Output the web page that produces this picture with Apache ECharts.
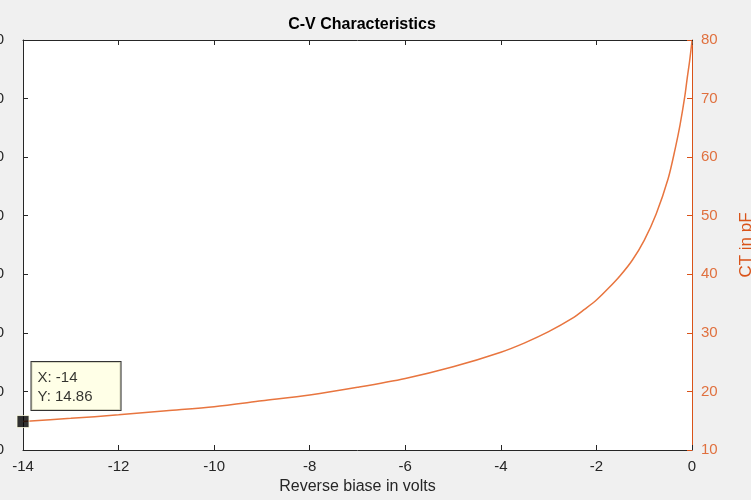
<!DOCTYPE html>
<html>
<head>
<meta charset="utf-8">
<script src="https://cdn.jsdelivr.net/npm/echarts@6/dist/echarts.min.js"></script>
<style>
  html, body { margin: 0; padding: 0; background: #f0f0f0; }
  #chart { width: 751px; height: 500px; }
</style>
</head>
<body>
<div id="chart"></div>
<script>
// reverse bias (V) and junction capacitance (pF)
const biasVolts = [-14, -13, -12, -11, -10, -9, -8, -7, -6, -5, -4, -3.5, -3, -2.5, -2.25, -2, -1.75,
  -1.5, -1.25, -1, -0.75, -0.5, -0.35, -0.25, -0.15, -0.1, -0.05, 0]
const capPf = [14.86, 15.4, 16.0, 16.7, 17.4, 18.4, 19.4, 20.7, 22.2, 24.2, 26.7, 28.3, 30.2, 32.5, 34.0, 35.6, 37.6,
  39.8, 42.4, 45.8, 50.3, 56.3, 61.5, 65.5, 70.4, 73.5, 76.4, 79.8]
const tipPoint = [-14, 14.86]

const xTicks = { min: -14, max: 0, interval: 2 }
const yTicks = { min: 10, max: 80, interval: 10 }

const dark = '#262626'
const orange = '#D95319'

const chart = echarts.init(document.getElementById('chart'), null, { renderer: 'canvas' })

const option = {
  backgroundColor: '#f0f0f0',
  animation: false,
  title: {
    text: 'C-V Characteristics',
    left: 357,
    textAlign: 'center',
    top: 12,
    textStyle: { fontFamily: 'Liberation Sans', fontSize: 16, fontWeight: 'bold', color: '#000' }
  },
  grid: {
    left: 23, right: 59, top: 40, bottom: 50,
    outerBoundsMode: 'none',
    containLabel: false,
    show: true, backgroundColor: '#fff', borderWidth: 0
  },
  xAxis: [
    {
      type: 'value', position: 'bottom',
      min: xTicks.min, max: xTicks.max, interval: xTicks.interval,
      name: 'Reverse biase in volts', nameLocation: 'middle', nameGap: 29,
      nameTextStyle: { fontFamily: 'Liberation Sans', fontSize: 16, color: dark },
      axisLine: { onZero: false, lineStyle: { color: dark, width: 1 } },
      axisTick: { inside: true, length: 5, lineStyle: { color: dark } },
      axisLabel: { fontFamily: 'Liberation Sans', fontSize: 15, color: dark, margin: 9 },
      splitLine: { show: false }
    },
    {
      type: 'value', position: 'top',
      min: xTicks.min, max: xTicks.max, interval: xTicks.interval,
      axisLine: { onZero: false, lineStyle: { color: dark, width: 1 } },
      axisTick: { inside: true, length: 5, lineStyle: { color: dark } },
      axisLabel: { show: false },
      splitLine: { show: false }
    }
  ],
  yAxis: [
    {
      type: 'value', position: 'left',
      min: yTicks.min, max: yTicks.max, interval: yTicks.interval,
      axisLine: { show: true, onZero: false, lineStyle: { color: dark, width: 1 } },
      axisTick: { show: true, inside: true, length: 5, lineStyle: { color: dark } },
      axisLabel: { fontFamily: 'Liberation Sans', fontSize: 15, color: dark, margin: 19 },
      splitLine: { show: false }
    },
    {
      type: 'value', position: 'right',
      min: yTicks.min, max: yTicks.max, interval: yTicks.interval,
      name: 'CT in pF', nameLocation: 'middle', nameGap: 46, nameRotate: 90,
      nameTextStyle: { fontFamily: 'Liberation Sans', fontSize: 17, color: orange },
      axisLine: { show: true, onZero: false, lineStyle: { color: orange, width: 1 } },
      axisTick: { show: true, inside: true, length: 5, lineStyle: { color: orange } },
      axisLabel: { fontFamily: 'Liberation Sans', fontSize: 15, color: '#E0703E', margin: 9 },
      splitLine: { show: false }
    }
  ],
  series: [
    {
      name: 'CT',
      type: 'line',
      yAxisIndex: 1,
      data: biasVolts.map((v, i) => [v, capPf[i]]),
      smooth: 0.3,
      showSymbol: false,
      lineStyle: { color: '#E8753F', width: 1.5 },
      z: 2
    },
    {
      name: 'datatip',
      type: 'scatter',
      yAxisIndex: 1,
      data: [tipPoint],
      symbol: 'rect',
      symbolSize: 12,
      itemStyle: { color: '#000', borderColor: '#FFFFE1', borderWidth: 1 },
      label: {
        show: true,
        position: [15, -53],
        formatter: p => 'X: ' + p.value[0] + '\nY: ' + p.value[1],
        fontFamily: 'Liberation Sans',
        fontSize: 15,
        lineHeight: 19,
        color: '#000',
        backgroundColor: '#FFFFE1',
        borderColor: '#000',
        borderWidth: 1,
        padding: [6, 28, 4, 6]
      },
      z: 5
    }
  ]
}

chart.setOption(option)
</script>
</body>
</html>
